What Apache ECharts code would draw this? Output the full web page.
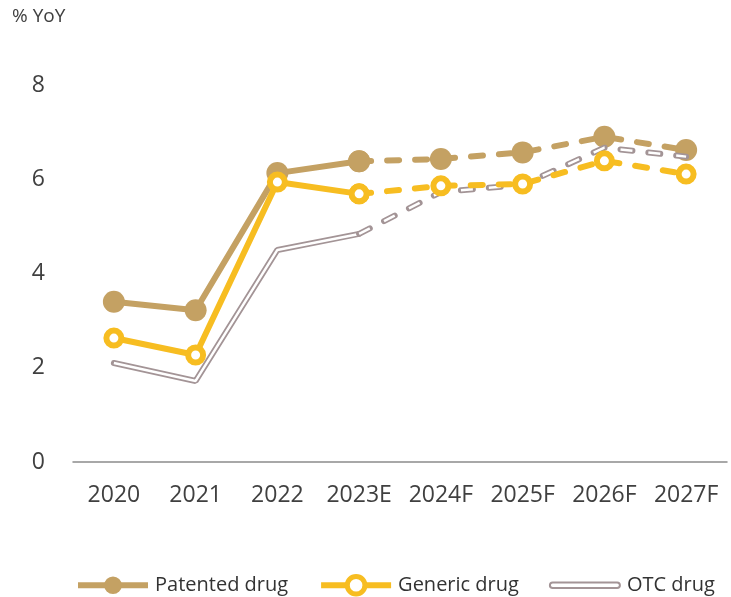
<!DOCTYPE html>
<html>
<head>
<meta charset="utf-8" />
<title></title>
<script type="text/javascript" src="https://cdn.jsdelivr.net/npm/echarts@6/dist/echarts.min.js"></script>
<style>
	* { margin: 0; padding: 0; }
	body, html { width: 100%; height: 100%; background: #fff; }
	#main { width: 731px; height: 597px; }
</style>
</head>
<body>
<div id="main"></div>
<script type="text/javascript">
	var years = ['2020', '2021', '2022', '2023E', '2024F', '2025F', '2026F', '2027F'];
	var patented = [3.40, 3.22, 6.13, 6.38, 6.43, 6.57, 6.90, 6.62];
	var generic = [2.63, 2.27, 5.94, 5.69, 5.86, 5.90, 6.39, 6.11];
	var otc = [2.10, 1.72, 4.50, 4.84, 5.73, 5.88, 6.67, 6.48];
	var yTicks = [0, 2, 4, 6, 8];
	var splitAt = 3; // forecast (dashed) from 2023E

	var cPat = '#c4a163';
	var cGen = '#f7bd21';
	var cOtc = '#a39496';
	var font = '"Open Sans", "Noto Sans", sans-serif';

	// split a series in a solid (actual) and a dashed (forecast) part
	function part(arr, dashed) {
		return arr.map(function(v, i) {
			if (dashed) return i >= splitAt ? v : null;
			return i <= splitAt ? v : null;
		});
	}

	var dash = [12, 16];

	var myChart = echarts.init(document.getElementById('main'));
	myChart.setOption({
		animation: false,
		textStyle: { fontFamily: font },
		graphic: [{
			type: 'text', left: 12, top: 7,
			style: { text: '% YoY', fontSize: 19, fill: '#404040', fontFamily: font }
		}],
		legend: {
			left: 70, top: 569,
			itemWidth: 70, itemHeight: 22, itemGap: 30,
			textStyle: { fontSize: 20, color: '#333', fontFamily: font, padding: [0, 0, 0, 2] },
			data: [
				{ name: 'Patented drug', lineStyle: { width: 6 } },
				{ name: 'Generic drug', lineStyle: { width: 6 }, itemStyle: { color: '#fff', borderColor: cGen, borderWidth: 5 } },
				{
					name: 'OTC drug',
					icon: 'path://M3,0 L72,0 A3,3 0 0 1 72,6 L3,6 A3,3 0 0 1 3,0 Z',
					itemStyle: { color: '#fff', borderColor: cOtc, borderWidth: 2 }
				}
			]
		},
		grid: { left: 73, right: 4, top: 85, bottom: 135 },
		xAxis: {
			type: 'category',
			data: years,
			axisTick: { show: false },
			axisLine: { lineStyle: { color: '#8c8c8c', width: 1.5 } },
			axisLabel: { fontSize: 23, color: '#404040', margin: 22, interval: 0 }
		},
		yAxis: {
			type: 'value',
			min: yTicks[0], max: yTicks[yTicks.length - 1], interval: 2,
			splitLine: { show: false },
			axisLine: { show: false },
			axisTick: { show: false },
			axisLabel: { fontSize: 23, color: '#404040', margin: 28 }
		},
		series: [
			// OTC drug: double (hollow) line
			{
				name: 'OTC drug', type: 'line', data: part(otc, false), symbol: 'none', z: 3,
				lineStyle: { color: cOtc, width: 6, cap: 'round' }
			},
			{
				name: 'OTC drug', type: 'line', data: part(otc, false), symbol: 'none', z: 3,
				lineStyle: { color: '#fff', width: 2.5 }
			},
			{
				name: 'OTC drug', type: 'line', data: part(otc, true), symbol: 'none', z: 3,
				lineStyle: { color: cOtc, width: 6, type: dash, cap: 'round' }
			},
			{
				name: 'OTC drug', type: 'line', data: part(otc, true), symbol: 'none', z: 3,
				lineStyle: { color: '#fff', width: 2.5, type: dash, cap: 'butt' }
			},
			// Patented drug
			{
				name: 'Patented drug', type: 'line', data: part(patented, false), z: 2,
				symbol: 'circle', symbolSize: 22,
				itemStyle: { color: cPat },
				lineStyle: { color: cPat, width: 6 }
			},
			{
				name: 'Patented drug', type: 'line', data: part(patented, true), z: 2,
				symbol: 'circle', symbolSize: 22,
				itemStyle: { color: cPat },
				lineStyle: { color: cPat, width: 6, type: dash, cap: 'round' }
			},
			// Generic drug
			{
				name: 'Generic drug', type: 'line', data: part(generic, false), z: 4,
				symbol: 'circle', symbolSize: 15,
				itemStyle: { color: '#fff', borderColor: cGen, borderWidth: 6 },
				lineStyle: { color: cGen, width: 6 }
			},
			{
				name: 'Generic drug', type: 'line', data: part(generic, true), z: 4,
				symbol: 'circle', symbolSize: 15,
				itemStyle: { color: '#fff', borderColor: cGen, borderWidth: 6 },
				lineStyle: { color: cGen, width: 6, type: dash, cap: 'round' }
			}
		]
	});
</script>
</body>
</html>
